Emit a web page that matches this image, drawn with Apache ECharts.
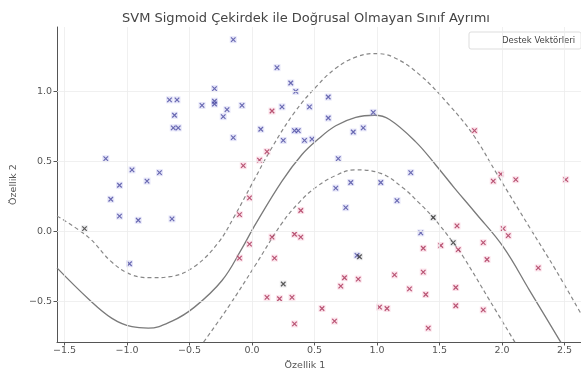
<!DOCTYPE html>
<html>
<head>
<meta charset="utf-8">
<script src="https://cdn.jsdelivr.net/npm/echarts@6/dist/echarts.min.js"></script>
<style>
html,body{margin:0;padding:0;background:#fff;}
#chart{width:581px;height:376px;}
</style>
</head>
<body>
<div id="chart"></div>
<script>
// ---- data ----
const xTicks = [-1.5, -1.0, -0.5, 0.0, 0.5, 1.0, 1.5, 2.0, 2.5];
const yTicks = [-0.5, 0.0, 0.5, 1.0];

const bluePoints = [
  [-0.15, 1.37], [0.20, 1.17], [0.31, 1.06], [0.35, 1.00], [-0.30, 1.02],
  [-0.66, 0.94], [-0.60, 0.94], [-0.40, 0.90], [-0.30, 0.93], [-0.30, 0.91],
  [-0.20, 0.87], [-0.23, 0.82], [-0.08, 0.90], [-0.62, 0.83], [-0.63, 0.74],
  [-0.59, 0.74], [0.24, 0.89], [0.46, 0.89], [0.07, 0.73], [-0.15, 0.67],
  [0.34, 0.72], [0.37, 0.72], [0.25, 0.65], [0.42, 0.65], [0.48, 0.66],
  [-1.17, 0.52], [-0.96, 0.44], [-0.74, 0.42], [-0.84, 0.36], [-1.06, 0.33],
  [-1.13, 0.23], [-1.06, 0.11], [-0.91, 0.08], [-0.64, 0.09], [-0.98, -0.23],
  [0.61, 0.96], [0.61, 0.81], [0.81, 0.71], [0.89, 0.74], [0.69, 0.52],
  [1.27, 0.42], [0.79, 0.35], [1.03, 0.35], [0.67, 0.31], [1.16, 0.22],
  [0.75, 0.17], [1.35, -0.01], [0.97, 0.85], [0.84, -0.17]
];

const redPoints = [
  [0.16, 0.86], [0.12, 0.57], [0.06, 0.51], [-0.07, 0.47], [-0.02, 0.24],
  [-0.10, 0.12], [-0.02, -0.09], [-0.10, -0.19], [0.39, 0.15], [0.16, -0.04],
  [0.34, -0.02], [0.39, -0.04], [0.18, -0.19], [0.12, -0.47], [0.22, -0.48],
  [0.32, -0.47], [0.34, -0.66], [0.56, -0.55], [1.78, 0.72], [1.99, 0.41],
  [1.93, 0.36], [2.11, 0.37], [2.51, 0.37], [0.66, -0.64], [0.74, -0.33],
  [0.85, -0.34], [0.71, -0.39], [1.02, -0.54], [1.08, -0.55], [1.14, -0.31],
  [1.64, 0.04], [1.65, -0.13], [1.51, -0.10], [1.37, -0.12], [1.85, -0.08],
  [1.88, -0.20], [2.01, 0.02], [2.05, -0.03], [2.29, -0.26], [1.37, -0.29],
  [1.26, -0.41], [1.39, -0.45], [1.63, -0.40], [1.63, -0.53], [1.85, -0.56],
  [1.41, -0.69]
];

const supportVectors = [
  [-1.34, 0.02], [0.25, -0.375], [1.45, 0.10], [1.61, -0.08], [0.86, -0.18]
];

const decisionBoundary = [
  [-1.56, -0.26], [-1.31, -0.48], [-1.12, -0.62], [-0.96, -0.68], [-0.83, -0.69],
  [-0.64, -0.64], [-0.46, -0.54], [-0.24, -0.35], [-0.08, -0.12], [0.02, 0.04],
  [0.24, 0.36], [0.40, 0.55], [0.53, 0.66], [0.67, 0.755], [0.83, 0.815], [0.98, 0.83],
  [1.10, 0.80], [1.31, 0.64], [1.47, 0.475], [1.62, 0.31], [1.79, 0.13],
  [2.01, -0.11], [2.22, -0.42], [2.46, -0.775], [2.52, -0.86]
];

const upperMargin = [
  [-1.56, 0.11], [-1.31, -0.04], [-1.12, -0.22], [-0.96, -0.31], [-0.80, -0.33],
  [-0.64, -0.32], [-0.46, -0.25], [-0.27, -0.08], [-0.14, 0.11], [0.0, 0.34],
  [0.16, 0.60], [0.34, 0.85], [0.52, 1.04], [0.67, 1.165], [0.83, 1.245],
  [0.98, 1.27], [1.13, 1.245], [1.34, 1.12], [1.58, 0.90], [1.77, 0.69],
  [1.96, 0.41], [2.22, 0.03], [2.43, -0.275], [2.64, -0.60]
];

const lowerMargin = [
  [-0.42, -0.83], [-0.19, -0.54], [0.02, -0.25], [0.24, 0.06], [0.38, 0.21],
  [0.51, 0.315], [0.67, 0.40], [0.82, 0.44], [1.03, 0.415], [1.21, 0.31],
  [1.33, 0.21], [1.45, 0.10], [1.61, -0.08], [1.69, -0.18], [1.90, -0.49],
  [2.13, -0.83]
];

// ---- chart ----
const chart = echarts.init(document.getElementById('chart'), null, {renderer: 'canvas'});
const FONT = 'DejaVu Sans';
const fmt = v => v.toFixed(1).replace('-', '\u2212');
const X_MARK = 'path://M0,0L10,10M10,0L0,10';

function pointLayers(name, data, halo, stroke) {
  return [
    {
      type: 'scatter', name: name + '_halo', data: data, symbol: 'rect', symbolSize: 7,
      itemStyle: {color: halo}, silent: true, z: 3
    },
    {
      type: 'scatter', name: name, data: data, symbol: X_MARK, symbolSize: 4.5,
      itemStyle: {color: 'transparent', borderColor: stroke, borderWidth: 1.2}, z: 4
    }
  ];
}

const gridLines = xTicks.map(v => ({xAxis: v})).concat(yTicks.map(v => ({yAxis: v})));

chart.setOption({
  backgroundColor: '#ffffff',
  animation: false,
  title: {
    text: 'SVM Sigmoid Çekirdek ile Doğrusal Olmayan Sınıf Ayrımı',
    left: 301, textAlign: 'center', top: 7,
    textStyle: {fontFamily: FONT, fontSize: 13, fontWeight: 'normal', color: '#444'}
  },
  legend: {
    left: 469, top: 32,
    data: [{name: 'Destek Vektörleri', icon: 'rect', itemStyle: {color: 'transparent', borderWidth: 0}}],
    itemWidth: 22, itemHeight: 8, padding: [4, 6, 4, 6],
    backgroundColor: '#fff', borderColor: '#dddddd', borderWidth: 1, borderRadius: 2,
    textStyle: {fontFamily: FONT, fontSize: 8.5, color: '#444'}
  },
  grid: {left: 57, right: 0, top: 27, bottom: 34, containLabel: false},
  xAxis: {
    type: 'value', min: -1.56, max: 2.632,
    name: 'Özellik 1', nameLocation: 'middle', nameGap: 17,
    nameTextStyle: {fontFamily: FONT, fontSize: 9.5, color: '#555', padding: [0, 28, 0, 0]},
    axisLine: {show: true, onZero: false, lineStyle: {color: '#555', width: 1}},
    axisTick: {show: true, length: 3.5, customValues: xTicks, lineStyle: {color: '#555'}},
    axisLabel: {customValues: xTicks, formatter: fmt, fontFamily: FONT, fontSize: 9.5, color: '#555', margin: 4},
    splitLine: {show: false}
  },
  yAxis: {
    type: 'value', min: -0.789, max: 1.46,
    name: 'Özellik 2', nameLocation: 'middle', nameGap: 32, nameRotate: 90,
    nameTextStyle: {fontFamily: FONT, fontSize: 9.5, color: '#555'},
    axisLine: {show: true, onZero: false, lineStyle: {color: '#555', width: 1}},
    axisTick: {show: true, length: 3.5, customValues: yTicks, lineStyle: {color: '#555'}},
    axisLabel: {customValues: yTicks, formatter: fmt, fontFamily: FONT, fontSize: 9.5, color: '#555', margin: 5},
    splitLine: {show: false}
  },
  series: [
    {
      type: 'scatter', name: 'grid', data: [], silent: true, z: 1,
      markLine: {
        silent: true, symbol: 'none', label: {show: false}, animation: false,
        lineStyle: {color: '#ececec', width: 0.8, type: 'solid'},
        data: gridLines
      }
    },
    {
      type: 'line', name: 'Karar Sınırı', data: decisionBoundary, smooth: 0.4, showSymbol: false,
      lineStyle: {color: '#7a7a7a', width: 1.3}, z: 2, silent: true
    },
    {
      type: 'line', name: 'Üst Marj', data: upperMargin, smooth: 0.4, showSymbol: false,
      lineStyle: {color: '#888', width: 1.2, type: [4, 3]}, z: 2, silent: true
    },
    {
      type: 'line', name: 'Alt Marj', data: lowerMargin, smooth: 0.4, showSymbol: false,
      lineStyle: {color: '#888', width: 1.2, type: [4, 3]}, z: 2, silent: true
    },
    ...pointLayers('Sınıf 0', bluePoints, 'rgba(170,170,235,0.35)', '#4a4aa0'),
    ...pointLayers('Sınıf 1', redPoints, 'rgba(245,170,195,0.4)', '#a83055'),
    ...pointLayers('Destek Vektörleri', supportVectors, 'rgba(180,180,190,0.3)', '#333')
  ]
});
</script>
</body>
</html>
